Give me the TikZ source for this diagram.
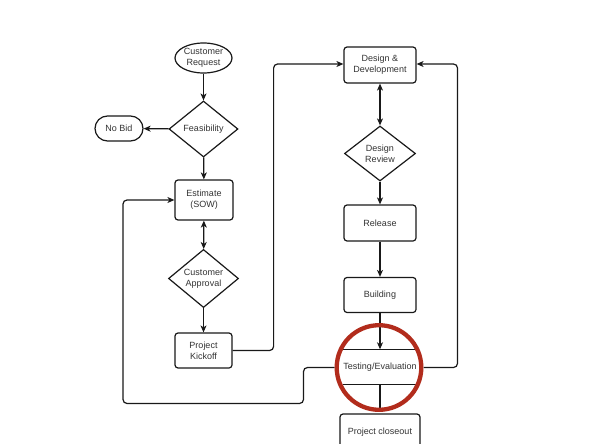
\documentclass[tikz,border=0pt]{standalone}
\usepackage{fontspec}
\setmainfont{Liberation Sans}
\usetikzlibrary{shapes.geometric,arrows.meta}
\definecolor{ringred}{RGB}{178,44,28}
\definecolor{txt}{RGB}{51,51,51}
\definecolor{ln}{RGB}{25,25,25}
\begin{document}
\begin{tikzpicture}[x=1pt,y=-1pt,
  every node/.style={font=\fontsize{9}{11}\selectfont, text=txt, align=center, inner sep=0pt},
  procbox/.style={draw=ln, line width=1.2pt, rounded corners=3pt, rectangle},
  decbox/.style={draw=ln, line width=1.2pt, diamond},
  termbox/.style={draw=ln, line width=1.2pt, ellipse},
  conn/.style={draw=ln, line width=1.2pt, rounded corners=4pt},
  arr/.style={conn, -{Stealth[length=7pt,width=6pt,inset=2pt]}},
  darr/.style={conn, {Stealth[length=7pt,width=6pt,inset=2pt]}-{Stealth[length=7pt,width=6pt,inset=2pt]}}
]
\clip (0,0) rectangle (592,444);
\fill[white] (0,0) rectangle (592,444);

\node[termbox, minimum width=57, minimum height=30] (req) at (203.5,58) {Customer\\Request};
\node[decbox, minimum width=69, minimum height=56] (feas) at (203.5,129) {Feasibility};
\node[procbox, rounded corners=12.5pt, minimum width=48, minimum height=25] (nobid) at (119,128.5) {No Bid};
\node[procbox, minimum width=58, minimum height=40] (est) at (204,200) {Estimate\\(SOW)};
\node[decbox, minimum width=70, minimum height=55] (appr) at (203.5,278.5) {Customer\\Approval};
\node[procbox, minimum width=57, minimum height=35] (kick) at (203.5,350.5) {Project\\Kickoff};

\node[procbox, minimum width=72, minimum height=36] (dd) at (380,65) {Design \&\\Development};
\node[decbox, minimum width=71, minimum height=55] (rev) at (380,153.5) {Design\\Review};
\node[procbox, minimum width=72, minimum height=36] (rel) at (380,223) {Release};
\node[procbox, minimum width=72, minimum height=35] (bld) at (380,295) {Building};
\node[rectangle, minimum width=72, minimum height=35] (test) at (380,367) {Testing/Evaluation};
\node[procbox, minimum width=80, minimum height=36] (close) at (380,432) {Project closeout};

\node[circle, minimum size=89, outer sep=0pt] (ring) at (379,367.5) {};

% testing box top and bottom edges inside the ring
\begin{scope}
  \clip (ring.center) circle (42);
  \draw[ln, line width=1.2pt] (test.north west) -- (test.north east);
  \draw[ln, line width=1.2pt] (test.south west) -- (test.south east);
\end{scope}

% connectors
\draw[arr] (req) -- (feas);
\draw[arr] (feas) -- (nobid);
\draw[arr] (feas) -- (est);
\draw[darr] (est) -- (appr);
\draw[arr] (appr) -- (kick);
\draw[arr] (kick.east) -- ++(41,0) |- ([yshift=1pt]dd.west);
\draw[darr] (dd) -- (rev);
\draw[arr] (rev) -- (rel);
\draw[arr] (rel) -- (bld);
\draw[arr] (bld) -- (test.north);
\draw[conn] (test.south) -- (test.south |- ring.south);
\draw[arr] (ring.west) -- ++(-31,0) -- ++(0,36) -| (123,200) -- (est.west);
\draw[arr] (ring.east) -- ++(34,0) |- ([yshift=1pt]dd.east);

% ring on top
\draw[ringred, line width=4.3pt] (ring.center) circle (42.3);
\end{tikzpicture}
\end{document}
